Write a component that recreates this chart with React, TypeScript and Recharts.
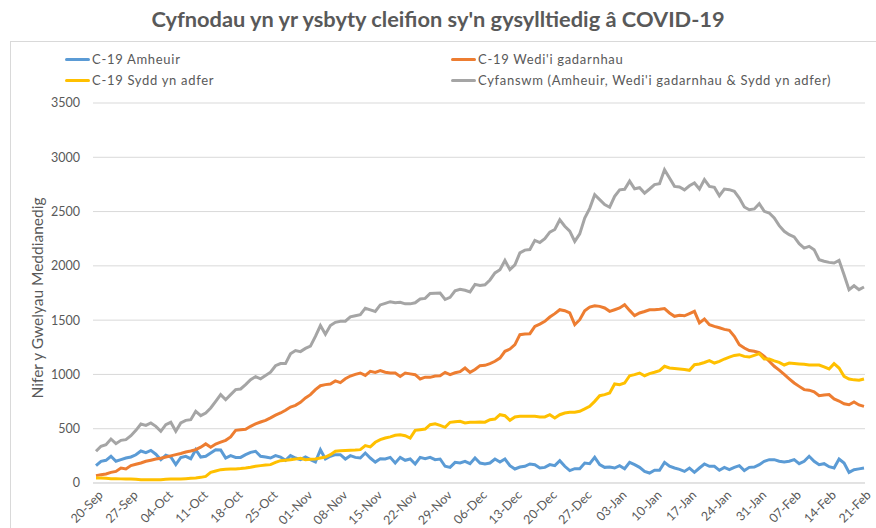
import React from "react";
import { LineChart, Line, XAxis, YAxis, CartesianGrid } from "recharts";

// daily values, 20-Sep to 21-Feb
const amheuir = [
  160, 200, 209, 246, 200, 215, 230, 240, 260, 295,
  280, 300, 265, 215, 255, 239, 169, 235, 246, 224,
  307, 239, 246, 276, 307, 305, 230, 252, 236, 236,
  261, 282, 292, 246, 239, 230, 252, 239, 209, 252,
  230, 215, 239, 215, 193, 307, 221, 246, 261, 261,
  221, 252, 236, 230, 276, 230, 193, 224, 221, 236,
  184, 236, 209, 221, 175, 236, 224, 236, 215, 221,
  154, 144, 190, 184, 200, 178, 230, 184, 175, 184,
  221, 193, 221, 160, 129, 147, 154, 175, 169, 138,
  144, 169, 160, 206, 154, 114, 132, 132, 184, 178,
  236, 169, 144, 147, 138, 160, 132, 190, 169, 144,
  107, 92, 117, 117, 190, 154, 138, 125, 107, 138,
  98, 138, 175, 154, 154, 117, 144, 123, 144, 160,
  114, 144, 147, 169, 200, 215, 215, 200, 193, 200,
  215, 178, 200, 246, 200, 169, 178, 150, 138, 221,
  184, 98, 123, 130, 138,
];

const gadarnhau = [
  68, 77, 83, 98, 107, 138, 129, 160, 172, 184,
  200, 210, 221, 228, 239, 250, 261, 272, 285, 295,
  307, 330, 360, 329, 359, 376, 393, 424, 485, 491,
  495, 522, 545, 562, 577, 600, 625, 645, 670, 700,
  715, 743, 783, 814, 860, 896, 906, 912, 940, 925,
  960, 985, 1000, 1013, 991, 1028, 1019, 1035, 1020, 1013,
  1013, 982, 1013, 1005, 998, 958, 975, 973, 985, 988,
  1019, 998, 1015, 1025, 1059, 1019, 1045, 1081, 1084, 1100,
  1121, 1151, 1213, 1234, 1274, 1366, 1372, 1375, 1443, 1464,
  1489, 1529, 1560, 1596, 1587, 1566, 1458, 1504, 1587, 1621,
  1633, 1627, 1612, 1581, 1596, 1612, 1642, 1590, 1541, 1566,
  1580, 1596, 1596, 1600, 1606, 1566, 1535, 1544, 1540, 1560,
  1581, 1474, 1510, 1458, 1443, 1430, 1415, 1406, 1351, 1274,
  1243, 1220, 1213, 1200, 1166, 1121, 1075, 1040, 1000, 960,
  921, 890, 860, 855, 840, 804, 810, 814, 774, 755,
  730, 721, 746, 719, 706,
];

const adfer = [
  46, 46, 43, 40, 40, 38, 37, 37, 35, 31,
  31, 31, 31, 31, 34, 37, 37, 37, 40, 43,
  46, 52, 61, 98, 110, 123, 126, 129, 130, 133,
  138, 145, 155, 160, 165, 169, 190, 206, 210, 215,
  220, 227, 215, 218, 221, 230, 239, 261, 292, 298,
  300, 301, 303, 307, 344, 332, 375, 399, 414, 425,
  439, 445, 436, 414, 485, 491, 497, 537, 546, 530,
  513, 559, 565, 568, 553, 559, 560, 562, 560, 583,
  589, 629, 620, 577, 608, 614, 614, 614, 614, 608,
  608, 629, 599, 629, 645, 651, 651, 660, 682, 706,
  752, 804, 814, 829, 912, 906, 921, 988, 998, 1013,
  988, 1007, 1020, 1035, 1075, 1059, 1055, 1050, 1045, 1038,
  1090, 1096, 1110, 1127, 1105, 1120, 1142, 1160, 1175, 1182,
  1166, 1160, 1175, 1191, 1142, 1142, 1125, 1111, 1087, 1105,
  1100, 1096, 1093, 1087, 1087, 1087, 1070, 1050, 1099, 1059,
  982, 958, 950, 946, 958,
];

const cyfanswm = [
  292, 338, 353, 405, 362, 393, 399, 436, 485, 543,
  530, 553, 522, 476, 537, 559, 476, 553, 577, 583,
  660, 620, 645, 691, 752, 814, 767, 814, 860, 866,
  906, 952, 980, 960, 990, 1020, 1080, 1100, 1100, 1190,
  1220, 1210, 1240, 1260, 1350, 1450, 1370, 1450, 1480, 1490,
  1490, 1530, 1540, 1550, 1610, 1595, 1580, 1640, 1655, 1670,
  1660, 1665, 1650, 1650, 1660, 1695, 1700, 1745, 1748, 1750,
  1690, 1710, 1770, 1785, 1775, 1760, 1830, 1820, 1825, 1870,
  1935, 1965, 2050, 1965, 2010, 2120, 2145, 2150, 2235, 2215,
  2250, 2310, 2335, 2425, 2365, 2320, 2225, 2295, 2440, 2530,
  2655, 2610, 2565, 2540, 2640, 2700, 2705, 2780, 2710, 2720,
  2670, 2708, 2748, 2757, 2886, 2809, 2732, 2726, 2700, 2738,
  2763, 2708, 2794, 2732, 2723, 2646, 2708, 2702, 2686, 2625,
  2542, 2517, 2524, 2573, 2502, 2487, 2441, 2370, 2318, 2287,
  2266, 2204, 2164, 2180, 2149, 2057, 2042, 2032, 2026, 2051,
  1919, 1781, 1817, 1781, 1805,
];

const yTicks = [0, 500, 1000, 1500, 2000, 2500, 3000, 3500];
const months = ["Jan", "Feb", "Mar", "Apr", "May", "Jun", "Jul", "Aug", "Sep", "Oct", "Nov", "Dec"];
const startDay = Date.UTC(2020, 8, 20);

const dates = amheuir.map((_, i) => {
  const d = new Date(startDay + i * 86400000);
  const dd = String(d.getUTCDate()).padStart(2, "0");
  return `${dd}-${months[d.getUTCMonth()]}`;
});

const data = dates.map((date, i) => ({
  date,
  amheuir: amheuir[i],
  gadarnhau: gadarnhau[i],
  adfer: adfer[i],
  cyfanswm: cyfanswm[i],
}));

const series = [
  { key: "amheuir", name: "C-19 Amheuir", color: "#5B9BD5" },
  { key: "gadarnhau", name: "C-19 Wedi'i gadarnhau", color: "#ED7D31" },
  { key: "adfer", name: "C-19 Sydd yn adfer", color: "#FFC000" },
  { key: "cyfanswm", name: "Cyfanswm (Amheuir, Wedi'i gadarnhau & Sydd yn adfer)", color: "#A5A5A5" },
];

const font = "Lato, 'Open Sans', sans-serif";
const grey = "#595959";

const DateTick = ({ x, y, payload }: any) => (
  <g transform={`translate(${x + 5},${y + 2})`}>
    <text textAnchor="end" transform="rotate(-45)" fill={grey} fontSize={12.5} fontFamily={font} dy={4}>
      {payload.value}
    </text>
  </g>
);

const LegendItem = ({ s, left, top }: any) => (
  <div style={{ position: "absolute", left, top, display: "flex", alignItems: "center", whiteSpace: "nowrap" }}>
    <div style={{ width: 25, height: 3, background: s.color, borderRadius: 2, marginRight: 2 }} />
    <span style={{ fontSize: 13, letterSpacing: 0.7, color: grey, fontFamily: font }}>{s.name}</span>
  </div>
);

export default function App() {
  return (
    <div style={{ position: "absolute", left: 0, top: 0, width: 876, height: 528, background: "#fff", overflow: "hidden" }}>
      <div
        style={{
          position: "absolute", left: 0, top: 5, width: 876, textAlign: "center",
          fontFamily: font, fontWeight: 700, fontSize: 21.8, color: grey,
        }}
      >
        Cyfnodau yn yr ysbyty cleifion sy'n gysylltiedig â COVID-19
      </div>
      <div style={{ position: "absolute", left: 10, top: 41, width: 880, height: 500, border: "1px solid #d9d9d9" }} />
      <LegendItem s={series[0]} left={65} top={51} />
      <LegendItem s={series[1]} left={451} top={51} />
      <LegendItem s={series[2]} left={65} top={72} />
      <LegendItem s={series[3]} left={451} top={72} />
      <div
        style={{
          position: "absolute", left: 37, top: 298, transform: "translate(-50%,-50%) rotate(-90deg)",
          whiteSpace: "nowrap", fontFamily: font, fontSize: 15.5, color: grey,
        }}
      >
        Nifer y Gwelyau Meddianedig
      </div>
      <div style={{ position: "absolute", left: 0, top: 0 }}>
        <LineChart width={876} height={528} data={data} margin={{ top: 103, right: 11, bottom: 5, left: 33 }}>
          <CartesianGrid vertical={false} stroke="#d9d9d9" />
          <XAxis
            dataKey="date"
            interval={6}
            tick={<DateTick />}
            tickLine={false}
            axisLine={{ stroke: "#d9d9d9" }}
            height={40}
            padding={{ left: 3, right: 1 }}
          />
          <YAxis
            domain={[0, 3500]}
            ticks={yTicks}
            width={60}
            axisLine={false}
            tickLine={false}
            tickMargin={7}
            tick={{ fill: grey, fontSize: 12.5, fontFamily: font }}
          />
          {series.map((s) => (
            <Line
              key={s.key}
              type="linear"
              dataKey={s.key}
              name={s.name}
              stroke={s.color}
              strokeWidth={3}
              dot={false}
              isAnimationActive={false}
            />
          ))}
        </LineChart>
      </div>
    </div>
  );
}
